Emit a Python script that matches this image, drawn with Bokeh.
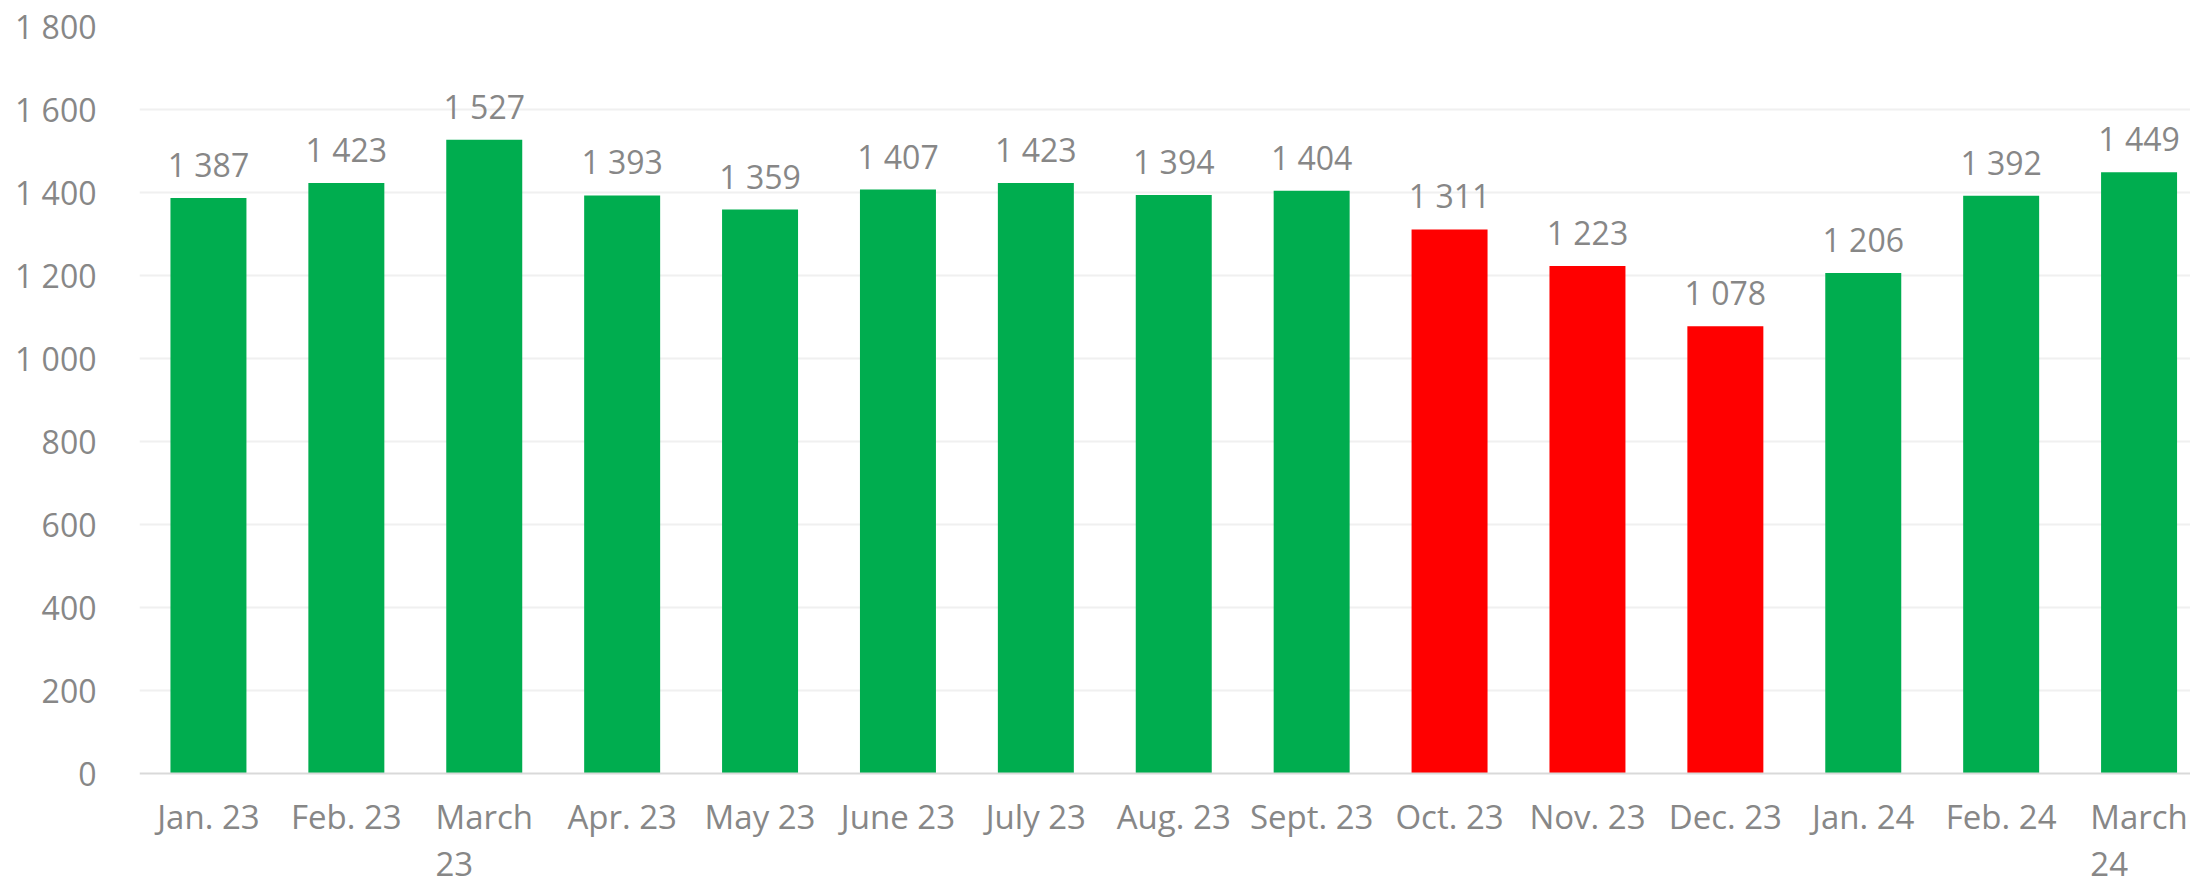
from bokeh.plotting import figure
from bokeh.models import ColumnDataSource, Range1d, FixedTicker, LabelSet, Span
from bokeh.core.properties import value
from bokeh.embed import file_html
from bokeh.resources import INLINE

months = ["Jan. 23", "Feb. 23", "March\n23", "Apr. 23", "May 23", "June 23", "July 23",
          "Aug. 23", "Sept. 23", "Oct. 23", "Nov. 23", "Dec. 23", "Jan. 24", "Feb. 24", "March\n24"]
values = [1387, 1423, 1527, 1393, 1359, 1407, 1423, 1394, 1404, 1311, 1223, 1078, 1206, 1392, 1449]
bar_colors = ["#00AD4F"] * 9 + ["#FF0000"] * 3 + ["#00AD4F"] * 3
y_ticks = [0, 200, 400, 600, 800, 1000, 1200, 1400, 1600, 1800]

def fmt(v):
    return f"{v:,}".replace(",", " ")

idx = list(range(len(months)))
src = ColumnDataSource(dict(x=idx, top=values, color=bar_colors,
                            label=[fmt(v) for v in values]))
cat_src = ColumnDataSource(dict(x=idx, text=months))

FONT = "Open Sans"
GRAY = "#878787"

# frame spans from the 1 800 gridline down to the page bottom; the space under 0
# holds the category labels
p = figure(width=2190, height=881, output_backend="svg", toolbar_location=None,
           x_range=Range1d(-0.5, 14.373), y_range=Range1d(-260, 1800),
           x_axis_location=None)
p.min_border_left = 139
p.min_border_right = 0
p.min_border_top = 26
p.min_border_bottom = 0
p.outline_line_color = None

p.vbar(x="x", top="top", bottom=0, width=0.551, fill_color="color", line_color=None, source=src)

p.add_layout(Span(location=0, dimension="width", line_color="#D9D9D9", line_width=2))

labels = LabelSet(x="x", y="top", text="label", source=src, text_align="center",
                  text_baseline="alphabetic", y_offset=21, text_font=value(FONT),
                  text_font_size=value("32px"), text_color=value(GRAY))
p.add_layout(labels)

cat_labels = LabelSet(x="x", y=0, text="text", source=cat_src, text_align="center",
                      text_baseline="top", y_offset=-20, text_font=value(FONT),
                      text_font_size=value("33px"), text_color=value(GRAY),
                      text_line_height=1.05)
p.add_layout(cat_labels)

p.yaxis.ticker = FixedTicker(ticks=y_ticks)
p.yaxis.major_label_overrides = {t: fmt(t) for t in y_ticks}
p.yaxis.major_tick_line_color = None
p.yaxis.minor_tick_line_color = None
p.yaxis.axis_line_color = None
p.yaxis.major_label_text_font = FONT
p.yaxis.major_label_text_font_size = "32px"
p.yaxis.major_label_text_color = GRAY
p.yaxis.major_label_standoff = 37

p.xgrid.grid_line_color = None
p.ygrid.ticker = FixedTicker(ticks=y_ticks[1:])
p.ygrid.grid_line_color = "#F0F0F0"
p.ygrid.grid_line_width = 2

open("out.html", "w").write(file_html(p, INLINE))
